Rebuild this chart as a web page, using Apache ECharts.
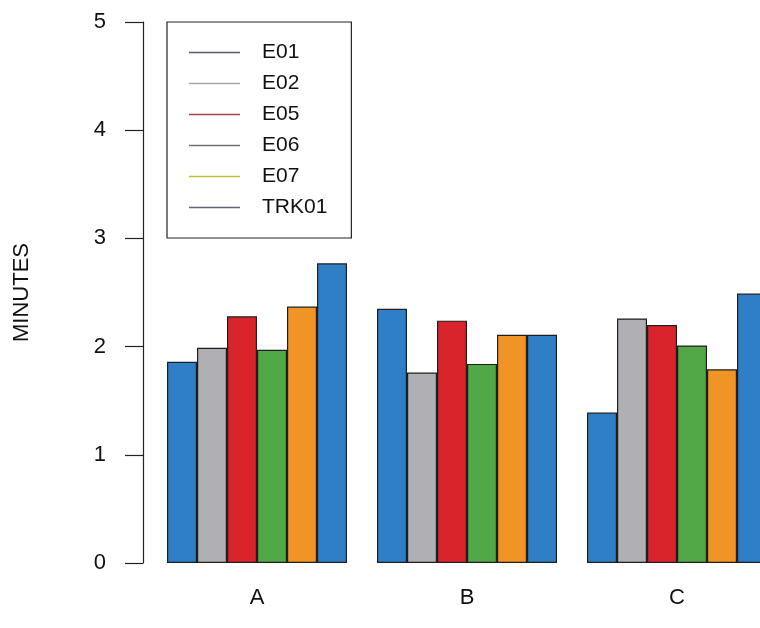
<!DOCTYPE html>
<html>
<head>
<meta charset="utf-8">
<script src="https://cdn.jsdelivr.net/npm/echarts@6/dist/echarts.min.js"></script>
<style>
html,body{margin:0;padding:0;background:#fff;overflow:hidden;width:760px;height:628px;}
#chart{width:800px;height:628px;}
</style>
</head>
<body>
<div id="chart"></div>
<script>
var categories = ['A', 'B', 'C'];
var seriesNames = ['E01', 'E02', 'E05', 'E06', 'E07', 'TRK01'];
var E01 = [1.86, 2.35, 1.39];
var E02 = [1.99, 1.76, 2.26];
var E05 = [2.28, 2.24, 2.20];
var E06 = [1.97, 1.84, 2.01];
var E07 = [2.37, 2.11, 1.79];
var TRK01 = [2.77, 2.11, 2.49];
var yTicks = [0, 1, 2, 3, 4, 5];

var values = [E01, E02, E05, E06, E07, TRK01];
var barColors = ['#2F7FC6', '#B0B0B4', '#D9242B', '#52A846', '#EF9425', '#2F7FC6'];
var legendColors = ['#4F5E70', '#A8A8A8', '#A8424C', '#6A7872', '#BCC23C', '#5E6874'];
var font = '"Liberation Sans", Arial, Helvetica, sans-serif';

var chart = echarts.init(document.getElementById('chart'), null, {renderer: 'canvas'});
var series = seriesNames.map(function (n, i) {
  return {
    name: n,
    type: 'bar',
    data: values[i],
    barGap: '0%',
    barCategoryGap: '14.2857%',
    itemStyle: {color: barColors[i], borderColor: '#1e1e1e', borderWidth: 1.2},
    emphasis: {disabled: true},
    animation: false
  };
});

chart.setOption({
  backgroundColor: '#ffffff',
  animation: false,
  textStyle: {fontFamily: font},
  grid: {left: 152, top: 22, width: 630, bottom: 65, containLabel: false},
  legend: {
    orient: 'vertical',
    left: 167,
    top: 22,
    padding: [20, 24, 20, 22],
    borderColor: '#222',
    borderWidth: 1.2,
    itemWidth: 51,
    itemHeight: 1.6,
    itemGap: 10,
    icon: 'rect',
    selectedMode: false,
    textStyle: {fontSize: 21, lineHeight: 21, color: '#111', fontFamily: font, padding: [0, 0, 0, 17]},
    data: seriesNames.map(function (n, i) {
      return {name: n, itemStyle: {color: legendColors[i], borderWidth: 0}};
    })
  },
  xAxis: {
    type: 'category',
    data: categories,
    axisLine: {show: false},
    axisTick: {show: false},
    axisLabel: {fontSize: 22, color: '#111', margin: 24, fontFamily: font}
  },
  yAxis: {
    type: 'value',
    min: yTicks[0],
    max: yTicks[yTicks.length - 1],
    interval: 1,
    offset: 9,
    name: 'MINUTES',
    nameLocation: 'middle',
    nameGap: 110,
    nameRotate: 90,
    nameTextStyle: {fontSize: 22, color: '#111', fontFamily: font},
    splitLine: {show: false},
    axisLine: {show: true, lineStyle: {color: '#222', width: 1.2}},
    axisTick: {show: true, length: 18, lineStyle: {color: '#222', width: 1.2}},
    axisLabel: {fontSize: 22, color: '#111', margin: 37, fontFamily: font}
  },
  series: series
});
</script>
</body>
</html>
